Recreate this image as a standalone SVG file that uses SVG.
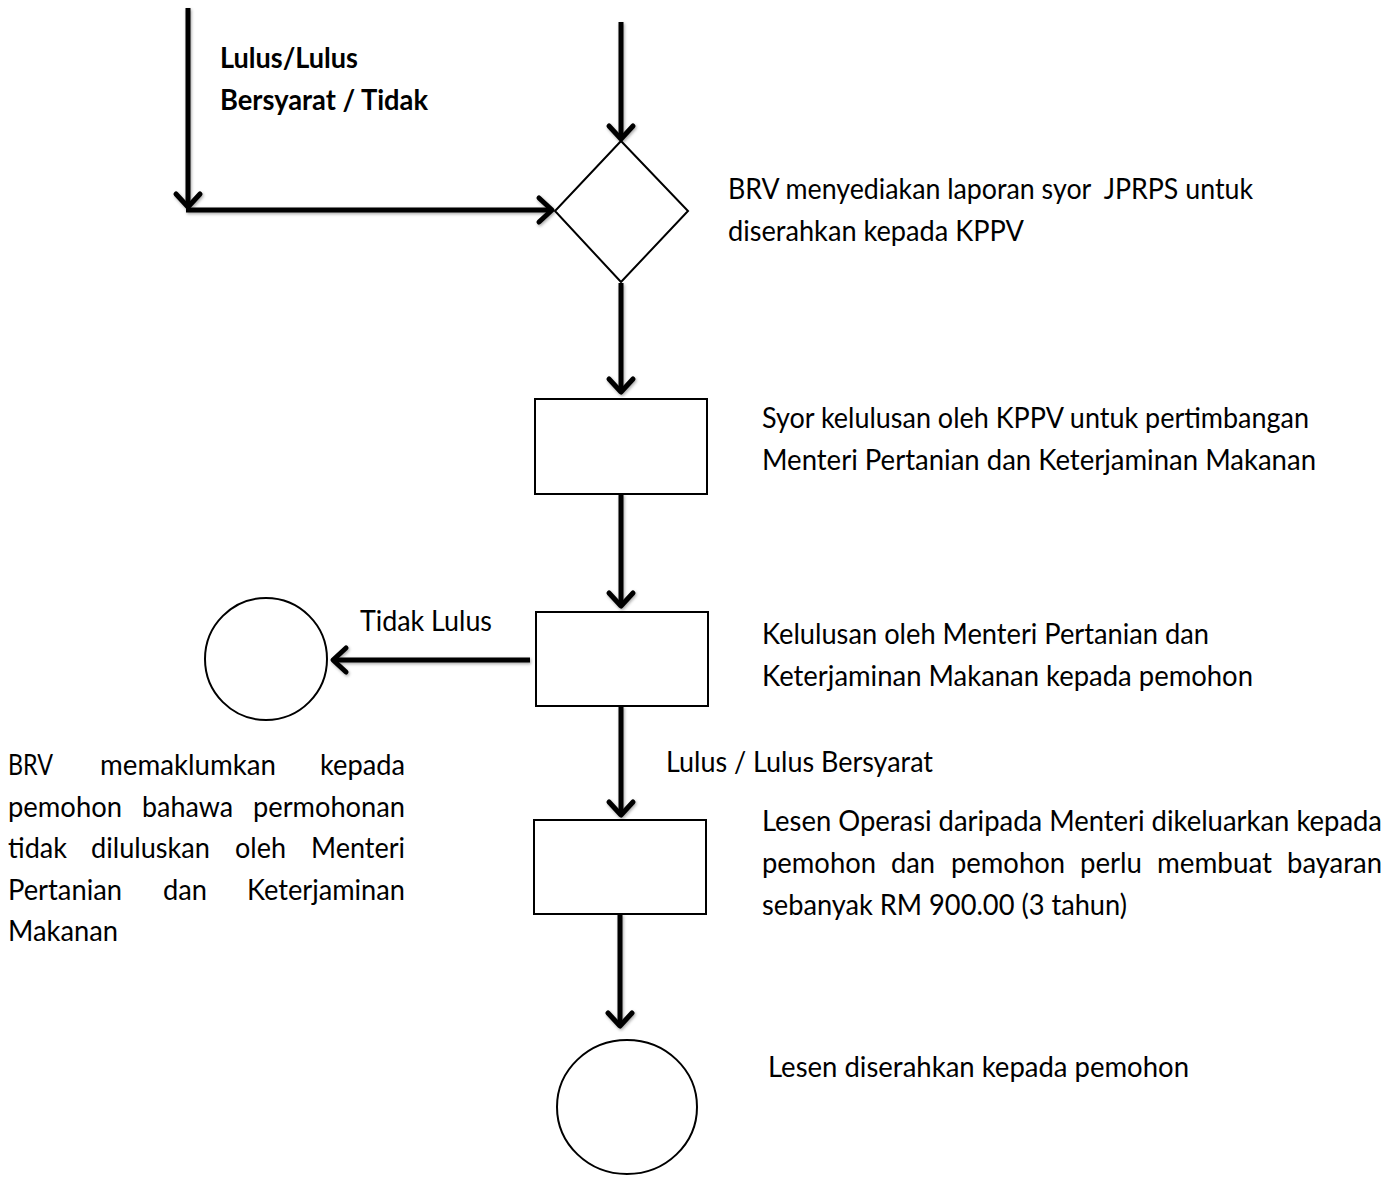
<svg xmlns="http://www.w3.org/2000/svg" width="1398" height="1178" viewBox="0 0 1398 1178">
<style>
.t{font-family:Lato,"Liberation Sans",sans-serif;font-size:29px;fill:#000}
.b{font-weight:bold}
.shape{fill:#fff;stroke:#000;stroke-width:2}
.conn{fill:none;stroke:#000;stroke-width:5;stroke-linecap:butt}
</style>
<defs>
<filter id="sh" x="-20%" y="-20%" width="140%" height="140%">
<feDropShadow dx="1" dy="1.5" stdDeviation="1.5" flood-color="#000" flood-opacity="0.35"/>
</filter>
<marker id="chev" markerUnits="userSpaceOnUse" viewBox="-20 -16 24 32" refX="0" refY="0" markerWidth="24" markerHeight="32" orient="auto">
<path d="M -13 -12 L 0 0 L -13 12" fill="none" stroke="#000" stroke-width="5" stroke-linecap="round" stroke-linejoin="round"/>
</marker>
</defs>
<rect width="1398" height="1178" fill="#fff"/>

<g id="connectors" filter="url(#sh)">
<path class="conn" d="M 188 8 L 188 207" marker-end="url(#chev)"/>
<path class="conn" d="M 186 210 L 552 210" marker-end="url(#chev)"/>
<path class="conn" d="M 621 22 L 621 139" marker-end="url(#chev)"/>
<path class="conn" d="M 621 283 L 621 392" marker-end="url(#chev)"/>
<path class="conn" d="M 621 494 L 621 606" marker-end="url(#chev)"/>
<path class="conn" d="M 530 660 L 333 660" marker-end="url(#chev)"/>
<path class="conn" d="M 621 706 L 621 815" marker-end="url(#chev)"/>
<path class="conn" d="M 620 914 L 620 1026" marker-end="url(#chev)"/>
</g>

<g id="decision">
<polygon class="shape" points="621,141 688,211 621,282 555,211"/>
</g>
<g id="box-syor">
<rect class="shape" x="535" y="399" width="172" height="95"/>
</g>
<g id="box-kelulusan">
<rect class="shape" x="536" y="612" width="172" height="94"/>
</g>
<g id="box-lesen">
<rect class="shape" x="534" y="820" width="172" height="94"/>
</g>
<g id="end-tidak">
<circle class="shape" cx="266" cy="659" r="61"/>
</g>
<g id="end-lesen">
<ellipse class="shape" cx="627" cy="1107" rx="70" ry="67"/>
</g>

<g id="labels">
<text class="t b" x="220" y="68" textLength="138" lengthAdjust="spacingAndGlyphs">Lulus/Lulus</text>
<text class="t b" x="220" y="110" textLength="208" lengthAdjust="spacingAndGlyphs">Bersyarat / Tidak</text>

<text class="t" x="728" y="199" textLength="525" lengthAdjust="spacingAndGlyphs" style="white-space:pre">BRV menyediakan laporan syor  JPRPS untuk</text>
<text class="t" x="728" y="241" textLength="296" lengthAdjust="spacingAndGlyphs">diserahkan kepada KPPV</text>

<text class="t" x="762" y="428" textLength="547" lengthAdjust="spacingAndGlyphs">Syor kelulusan oleh KPPV untuk pertimbangan</text>
<text class="t" x="762" y="470" textLength="554" lengthAdjust="spacingAndGlyphs">Menteri Pertanian dan Keterjaminan Makanan</text>

<text class="t" x="360" y="631" textLength="132" lengthAdjust="spacingAndGlyphs">Tidak Lulus</text>

<text class="t" x="762" y="644" textLength="447" lengthAdjust="spacingAndGlyphs">Kelulusan oleh Menteri Pertanian dan</text>
<text class="t" x="762" y="686" textLength="491" lengthAdjust="spacingAndGlyphs">Keterjaminan Makanan kepada pemohon</text>

<text class="t" x="666" y="772" textLength="267" lengthAdjust="spacingAndGlyphs">Lulus / Lulus Bersyarat</text>

<text class="t" x="8" y="775" textLength="45" lengthAdjust="spacingAndGlyphs">BRV</text>
<text class="t" x="100" y="775" textLength="176" lengthAdjust="spacingAndGlyphs">memaklumkan</text>
<text class="t" x="320" y="775" textLength="85" lengthAdjust="spacingAndGlyphs">kepada</text>
<text class="t" x="8" y="817" textLength="114" lengthAdjust="spacingAndGlyphs">pemohon</text>
<text class="t" x="142" y="817" textLength="91" lengthAdjust="spacingAndGlyphs">bahawa</text>
<text class="t" x="253" y="817" textLength="152" lengthAdjust="spacingAndGlyphs">permohonan</text>
<text class="t" x="8" y="858" textLength="59" lengthAdjust="spacingAndGlyphs">tidak</text>
<text class="t" x="91" y="858" textLength="119" lengthAdjust="spacingAndGlyphs">diluluskan</text>
<text class="t" x="235" y="858" textLength="51" lengthAdjust="spacingAndGlyphs">oleh</text>
<text class="t" x="311" y="858" textLength="94" lengthAdjust="spacingAndGlyphs">Menteri</text>
<text class="t" x="8" y="900" textLength="114" lengthAdjust="spacingAndGlyphs">Pertanian</text>
<text class="t" x="163" y="900" textLength="44" lengthAdjust="spacingAndGlyphs">dan</text>
<text class="t" x="247" y="900" textLength="158" lengthAdjust="spacingAndGlyphs">Keterjaminan</text>
<text class="t" x="8" y="941" textLength="110" lengthAdjust="spacingAndGlyphs">Makanan</text>

<text class="t" x="762" y="831" textLength="620" lengthAdjust="spacingAndGlyphs" style="font-size:28px">Lesen Operasi daripada Menteri dikeluarkan kepada</text>
<text class="t" x="762" y="873" textLength="114" lengthAdjust="spacingAndGlyphs">pemohon</text>
<text class="t" x="891" y="873" textLength="44" lengthAdjust="spacingAndGlyphs">dan</text>
<text class="t" x="951" y="873" textLength="114" lengthAdjust="spacingAndGlyphs">pemohon</text>
<text class="t" x="1080" y="873" textLength="62" lengthAdjust="spacingAndGlyphs">perlu</text>
<text class="t" x="1157" y="873" textLength="115" lengthAdjust="spacingAndGlyphs">membuat</text>
<text class="t" x="1287" y="873" textLength="95" lengthAdjust="spacingAndGlyphs">bayaran</text>
<text class="t" x="762" y="915" textLength="365" lengthAdjust="spacingAndGlyphs">sebanyak RM 900.00 (3 tahun)</text>

<text class="t" x="768" y="1077" textLength="421" lengthAdjust="spacingAndGlyphs">Lesen diserahkan kepada pemohon</text>
</g>
</svg>
